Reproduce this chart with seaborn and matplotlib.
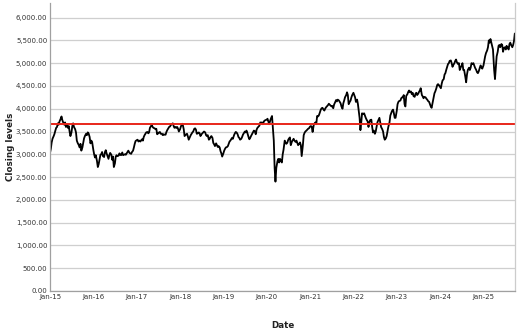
import matplotlib
matplotlib.use("Agg")
import matplotlib.pyplot as plt
import matplotlib.dates as mdates
import matplotlib.ticker as mticker
import numpy as np
import pandas as pd
import seaborn as sns

# Approximate closing levels, four readings per month (days 1, 8, 15, 22)
y2015 = [3030, 3120, 3260, 3340, 3400, 3450, 3520, 3580, 3600, 3680, 3650, 3720,
         3780, 3830, 3750, 3700, 3650, 3700, 3600, 3660, 3580, 3620, 3500, 3400,
         3480, 3620, 3680, 3600, 3550, 3480, 3300, 3250, 3200, 3150, 3230, 3080,
         3150, 3250, 3350, 3400, 3450, 3420, 3480, 3460, 3380, 3240, 3300, 3270]
y2016 = [3100, 3000, 2930, 2980, 2850, 2720, 2780, 2880, 2990, 3000, 3050, 2960,
         2940, 3050, 3090, 3020, 2950, 2900, 2980, 3030, 2990, 2880, 2950, 2720,
         2800, 2950, 2980, 2960, 2970, 3020, 2990, 2980, 3040, 2980, 2990, 3000,
         2990, 3020, 3050, 3080, 3030, 3020, 3010, 3050, 3080, 3150, 3230, 3290]
y2017 = [3310, 3320, 3280, 3300, 3280, 3310, 3330, 3300, 3380, 3420, 3450, 3480,
         3490, 3460, 3480, 3580, 3620, 3640, 3600, 3580, 3570, 3550, 3560, 3440,
         3460, 3480, 3490, 3450, 3450, 3420, 3440, 3430, 3430, 3490, 3530, 3560,
         3600, 3610, 3640, 3660, 3680, 3620, 3580, 3600, 3580, 3600, 3560, 3500]
y2018 = [3550, 3610, 3650, 3670, 3550, 3400, 3420, 3440, 3450, 3390, 3320, 3360,
         3420, 3450, 3480, 3500, 3560, 3570, 3540, 3450, 3460, 3480, 3460, 3400,
         3440, 3460, 3480, 3500, 3480, 3420, 3400, 3420, 3320, 3340, 3380, 3400,
         3360, 3250, 3220, 3180, 3240, 3200, 3160, 3180, 3150, 3070, 3020, 2950]
y2019 = [3020, 3080, 3120, 3150, 3160, 3180, 3230, 3280, 3300, 3330, 3360, 3340,
         3420, 3460, 3490, 3480, 3440, 3380, 3360, 3320, 3340, 3380, 3430, 3460,
         3500, 3480, 3520, 3470, 3380, 3330, 3360, 3400, 3450, 3480, 3520, 3510,
         3440, 3540, 3580, 3600, 3630, 3700, 3690, 3700, 3660, 3720, 3740, 3750]
y2020 = [3760, 3780, 3720, 3660, 3750, 3800, 3840, 3580, 3300, 2700, 2400, 2700,
         2850, 2900, 2820, 2900, 2850, 2820, 3000, 3100, 3300, 3250, 3230, 3250,
         3320, 3350, 3370, 3200, 3280, 3310, 3340, 3300, 3270, 3300, 3250, 3200,
         3230, 3260, 3200, 2960, 3200, 3420, 3470, 3500, 3520, 3540, 3560, 3570]
y2021 = [3610, 3620, 3600, 3490, 3650, 3680, 3700, 3660, 3840, 3830, 3850, 3900,
         3980, 4010, 4020, 3990, 3960, 4000, 4030, 4050, 4080, 4110, 4090, 4070,
         4050, 4060, 4010, 4090, 4150, 4190, 4160, 4200, 4180, 4150, 4120, 4050,
         4000, 4120, 4180, 4250, 4300, 4360, 4300, 4100, 4150, 4180, 4250, 4300]
y2022 = [4350, 4300, 4250, 4150, 4200, 4100, 3950, 3800, 3530, 3700, 3900, 3880,
         3900, 3850, 3800, 3760, 3720, 3600, 3700, 3750, 3760, 3600, 3480, 3520,
         3450, 3500, 3600, 3700, 3760, 3800, 3700, 3600, 3550, 3500, 3380, 3320,
         3350, 3400, 3500, 3600, 3700, 3850, 3900, 3950, 3980, 3900, 3800, 3800]
y2023 = [3950, 4100, 4150, 4170, 4180, 4230, 4250, 4250, 4300, 4100, 4050, 4280,
         4320, 4370, 4400, 4360, 4380, 4320, 4350, 4280, 4260, 4330, 4350, 4300,
         4330, 4370, 4400, 4450, 4300, 4270, 4230, 4260, 4250, 4220, 4200, 4170,
         4150, 4100, 4050, 4020, 4150, 4250, 4340, 4380, 4450, 4520, 4540, 4520]
y2024 = [4480, 4450, 4550, 4620, 4650, 4750, 4780, 4850, 4920, 4980, 5000, 5050,
         5060, 5000, 4920, 4960, 5000, 5050, 5080, 5020, 4980, 5000, 4850, 4900,
         4950, 5000, 4850, 4850, 4700, 4580, 4750, 4850, 4900, 4850, 4900, 5000,
         4980, 5000, 4950, 4900, 4850, 4800, 4780, 4820, 4900, 4950, 4900, 4880]
y2025 = [4950, 5050, 5150, 5220, 5280, 5350, 5500, 5450, 5530, 5450, 5380, 5300,
         4850, 4650, 4900, 5150, 5250, 5380, 5400, 5350, 5420, 5400, 5250, 5330,
         5350, 5300, 5380, 5350, 5300, 5420, 5450, 5400, 5350, 5400, 5480, 5650]

years = [2015, 2016, 2017, 2018, 2019, 2020, 2021, 2022, 2023, 2024, 2025]
series = [y2015, y2016, y2017, y2018, y2019, y2020, y2021, y2022, y2023, y2024, y2025]
days = [1, 8, 15, 22]
reference_level = 3660

dates, values = [], []
for yr, vals in zip(years, series):
    for i, v in enumerate(vals):
        m = i // 4 + 1
        d = days[i % 4]
        dates.append(pd.Timestamp(year=yr, month=m, day=d))
        values.append(v)
df = pd.DataFrame({"Date": dates, "Close": values})

sns.set_style("white")
plt.rcParams["font.family"] = ["DejaVu Sans"]

fig = plt.figure(figsize=(5.28, 3.36), dpi=100)
ax = fig.add_axes([0.0947, 0.134, 0.8803, 0.857])

ax.yaxis.grid(True, color="#cfcfcf", linewidth=0.9)
ax.set_axisbelow(True)
sns.lineplot(data=df, x="Date", y="Close", ax=ax, color="black", linewidth=1.3)
ax.axhline(reference_level, color="#e8261a", linewidth=1.4)

ax.set_xlim(df["Date"].iloc[0], df["Date"].iloc[-1])
ax.set_ylim(0, 6320)
ax.yaxis.set_major_locator(mticker.MultipleLocator(500))
ax.yaxis.set_major_formatter(mticker.FuncFormatter(lambda v, p: f"{v:,.2f}"))
ax.xaxis.set_major_locator(mdates.YearLocator())
ax.xaxis.set_major_formatter(mdates.DateFormatter("%b-%y"))

ax.tick_params(axis="both", length=0, labelsize=5, labelcolor="#333333", pad=2)
for s in ["left", "bottom"]:
    ax.spines[s].set_color("#a0a0a0")
    ax.spines[s].set_linewidth(0.9)
ax.spines["right"].set_color("#cccccc")
ax.spines["right"].set_linewidth(0.9)
ax.spines["top"].set_visible(False)

ax.set_xlabel("Date", fontsize=6.3, fontweight="bold", color="#222222", labelpad=15)
ax.set_ylabel("Closing levels", fontsize=6.3, fontweight="bold", color="#222222", labelpad=0.5)

fig.savefig("out.png", dpi=100)
